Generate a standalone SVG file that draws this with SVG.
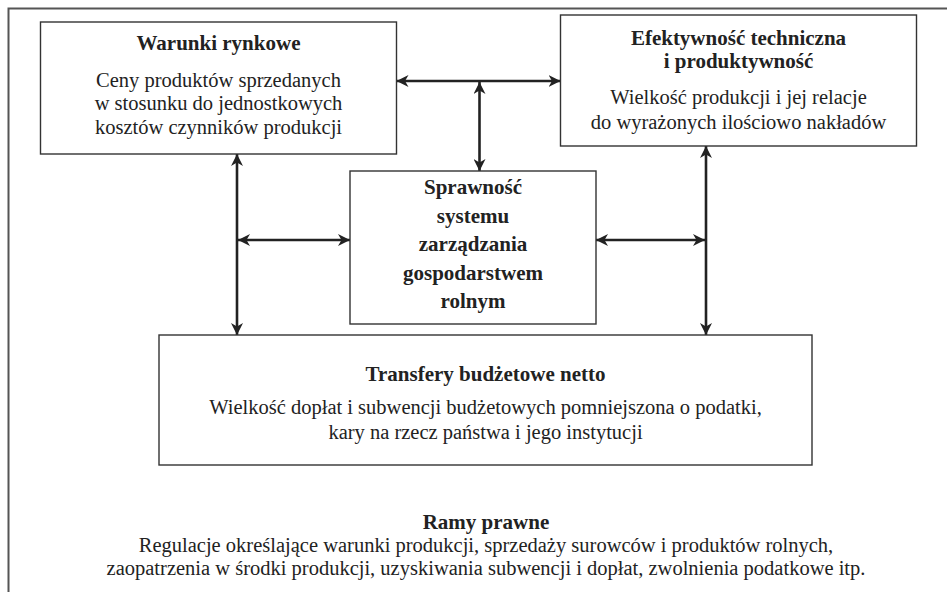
<svg xmlns="http://www.w3.org/2000/svg" width="947" height="592" viewBox="0 0 947 592">
<defs>
<marker id="ah" markerUnits="userSpaceOnUse" markerWidth="13" markerHeight="12" refX="12" refY="6" orient="auto-start-reverse" viewBox="0 0 13 12">
<path d="M0,0 L12,6 L0,12 L3.5,6 Z" fill="#222"/>
</marker>
</defs>
<style>
.frame{fill:none;stroke:#555;stroke-width:2}
.box{fill:#fff;stroke:#333;stroke-width:1.4}
.t{font-family:"Liberation Serif","Times New Roman",serif;font-size:20.5px;fill:#222;text-anchor:middle}
.b{font-weight:bold;font-size:21px}
.c{stroke:#222;stroke-width:2.6;fill:none;marker-start:url(#ah);marker-end:url(#ah)}
</style>
<rect width="947" height="592" fill="#fff"/>
<rect class="frame" x="8.5" y="8.5" width="1000" height="1000"/>
<g id="connectors">
<line class="c" x1="396.5" y1="81" x2="560.5" y2="81"/>
<line class="c" x1="479.5" y1="82" x2="479.5" y2="171"/>
<line class="c" x1="237" y1="154" x2="237" y2="335"/>
<line class="c" x1="706" y1="146" x2="706" y2="335"/>
<line class="c" x1="238" y1="240" x2="350" y2="240"/>
<line class="c" x1="596" y1="240" x2="705" y2="240"/>
</g>
<g id="warunki">
<rect class="box" x="40.5" y="22" width="356" height="132"/>
<text class="t b" x="218.5" y="50">Warunki rynkowe</text>
<text class="t" x="218.5" y="86.5">Ceny produktów sprzedanych</text>
<text class="t" x="218.5" y="110">w stosunku do jednostkowych</text>
<text class="t" x="218.5" y="133.5">kosztów czynników produkcji</text>
</g>
<g id="efektywnosc">
<rect class="box" x="560.5" y="15" width="356" height="131"/>
<text class="t b" x="738.5" y="44.5">Efektywność techniczna</text>
<text class="t b" x="738.5" y="67.5">i produktywność</text>
<text class="t" x="738.5" y="103.5">Wielkość produkcji i jej relacje</text>
<text class="t" x="738.5" y="129">do wyrażonych ilościowo nakładów</text>
</g>
<g id="sprawnosc">
<rect class="box" x="350" y="171" width="246" height="153"/>
<text class="t b" x="473" y="194">Sprawność</text>
<text class="t b" x="473" y="222.5">systemu</text>
<text class="t b" x="473" y="251">zarządzania</text>
<text class="t b" x="473" y="279.5">gospodarstwem</text>
<text class="t b" x="473" y="308">rolnym</text>
</g>
<g id="transfery">
<rect class="box" x="159" y="335" width="653" height="130"/>
<text class="t b" x="485.5" y="381">Transfery budżetowe netto</text>
<text class="t" x="485.5" y="414">Wielkość dopłat i subwencji budżetowych pomniejszona o podatki,</text>
<text class="t" x="485.5" y="439">kary na rzecz państwa i jego instytucji</text>
</g>
<g id="ramy">
<text class="t b" x="486" y="529">Ramy prawne</text>
<text class="t" x="486" y="552">Regulacje określające warunki produkcji, sprzedaży surowców i produktów rolnych,</text>
<text class="t" x="486" y="575">zaopatrzenia w środki produkcji, uzyskiwania subwencji i dopłat, zwolnienia podatkowe itp.</text>
</g>
</svg>
